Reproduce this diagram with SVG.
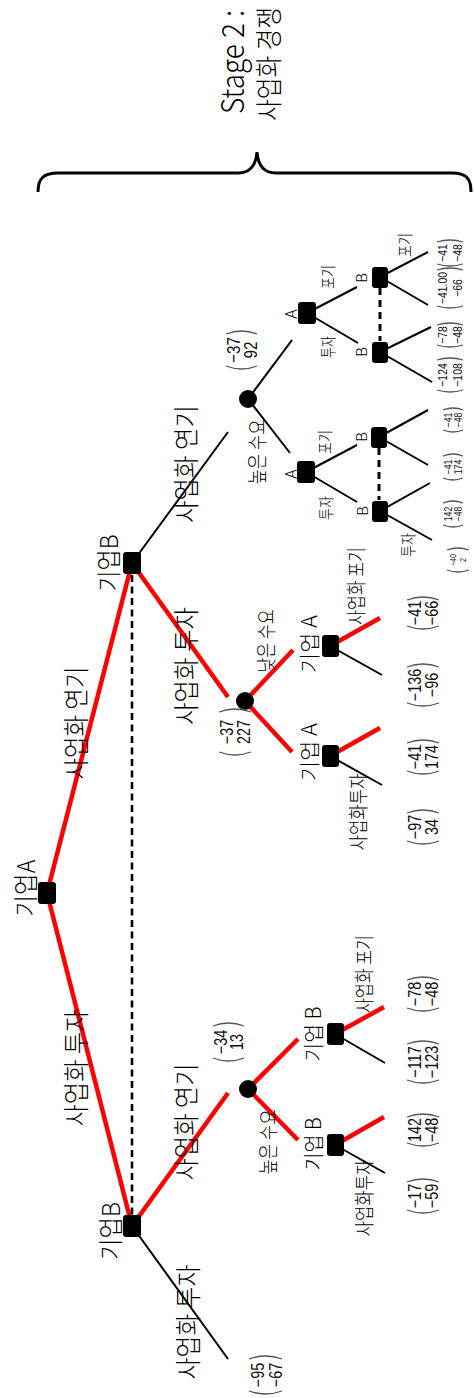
<svg xmlns="http://www.w3.org/2000/svg" width="474" height="1398" viewBox="0 0 474 1398">
<style>
.k{font-family:"Noto Sans CJK KR","Liberation Sans",sans-serif;font-weight:300;fill:#000}
.n{font-family:"Liberation Sans","Noto Sans CJK KR",sans-serif;fill:#111;text-anchor:middle}
.red{stroke:#ff0000;stroke-width:4.5;fill:none}
.blk{stroke:#000;stroke-width:2;fill:none}
.dash{stroke:#000;stroke-width:2.6;stroke-dasharray:7 4.5;fill:none}
.dash2{stroke:#000;stroke-width:3;stroke-dasharray:7 5;fill:none}
.sq{fill:#000}
.par{fill:none;stroke:#555;stroke-width:1.3}
.brace{fill:none;stroke:#000;stroke-width:3}
</style>
<rect width="474" height="1398" fill="#fff"/>

<g id="stage2">
<path class="brace" d="M38,192 C38,178 44,173 58,173 L238,173 C250,173 256,165 257,152 C258,165 264,173 276,173 L452,173 C466,173 471,178 471,192"/>
<text class="k" font-size="26" text-anchor="middle" textLength="104" lengthAdjust="spacingAndGlyphs" transform="translate(244,62) rotate(-90) scale(1,1.2)">Stage 2 :</text>
<text class="k" font-size="22" text-anchor="middle" textLength="114" lengthAdjust="spacingAndGlyphs" transform="translate(279,64) rotate(-90) scale(1,1.25)">사업화 경쟁</text>
</g>

<g id="connectors">
<line class="red" x1="47" y1="893" x2="132" y2="563"/>
<line class="red" x1="47" y1="893" x2="132" y2="1226"/>
<line class="dash" x1="132" y1="575" x2="132" y2="1215"/>
<line class="blk" x1="132" y1="563" x2="228" y2="432"/>
<line class="red" x1="132" y1="563" x2="228" y2="697"/>
<line class="red" x1="132" y1="1226" x2="228" y2="1093"/>
<line class="blk" x1="132" y1="1226" x2="228" y2="1359"/>
<line class="red" x1="245" y1="701" x2="293" y2="650"/>
<line class="red" x1="245" y1="701" x2="292" y2="752"/>
<line class="red" x1="330" y1="646" x2="380" y2="618"/>
<line class="blk" x1="330" y1="646" x2="382" y2="675"/>
<line class="red" x1="330" y1="756" x2="380" y2="728"/>
<line class="blk" x1="330" y1="756" x2="382" y2="785"/>
<line class="red" x1="248" y1="1089" x2="298" y2="1039"/>
<line class="red" x1="248" y1="1089" x2="298" y2="1140"/>
<line class="red" x1="335" y1="1034" x2="384" y2="1007"/>
<line class="blk" x1="335" y1="1034" x2="385" y2="1063"/>
<line class="red" x1="335" y1="1145" x2="384" y2="1117"/>
<line class="blk" x1="335" y1="1145" x2="385" y2="1173"/>
<line class="blk" x1="248" y1="399" x2="292" y2="340"/>
<line class="blk" x1="248" y1="399" x2="290" y2="453"/>
<line class="blk" x1="307" y1="313" x2="357" y2="287"/>
<line class="blk" x1="307" y1="313" x2="358" y2="343"/>
<line class="blk" x1="380" y1="277" x2="428" y2="252"/>
<line class="blk" x1="380" y1="277" x2="428" y2="305"/>
<line class="blk" x1="380" y1="352" x2="431" y2="327"/>
<line class="blk" x1="380" y1="352" x2="432" y2="382"/>
<line class="dash2" x1="380" y1="288" x2="380" y2="341"/>
<line class="blk" x1="306" y1="472" x2="357" y2="445"/>
<line class="blk" x1="306" y1="472" x2="357" y2="502"/>
<line class="blk" x1="379" y1="437" x2="428" y2="410"/>
<line class="blk" x1="379" y1="437" x2="428" y2="465"/>
<line class="blk" x1="380" y1="511" x2="430" y2="483"/>
<line class="blk" x1="380" y1="511" x2="432" y2="540"/>
<line class="dash2" x1="379" y1="448" x2="379" y2="500"/>
</g>

<g id="edge-labels">
<text class="k" font-size="26" text-anchor="middle" textLength="113" lengthAdjust="spacingAndGlyphs" transform="translate(86,723) rotate(-90)">사업화 연기</text>
<text class="k" font-size="26" text-anchor="middle" textLength="117" lengthAdjust="spacingAndGlyphs" transform="translate(86,1068) rotate(-90)">사업화 투자</text>
<text class="k" font-size="26" text-anchor="middle" textLength="118" lengthAdjust="spacingAndGlyphs" transform="translate(196,464) rotate(-90)">사업화 연기</text>
<text class="k" font-size="26" text-anchor="middle" textLength="118" lengthAdjust="spacingAndGlyphs" transform="translate(196,666) rotate(-90)">사업화 투자</text>
<text class="k" font-size="26" text-anchor="middle" textLength="117" lengthAdjust="spacingAndGlyphs" transform="translate(196,1122) rotate(-90)">사업화 연기</text>
<text class="k" font-size="26" text-anchor="middle" textLength="115" lengthAdjust="spacingAndGlyphs" transform="translate(198,1322) rotate(-90)">사업화 투자</text>
<text class="k" font-size="20" text-anchor="middle" textLength="63" lengthAdjust="spacingAndGlyphs" transform="translate(274,641) rotate(-90)">낮은 수요</text>
<text class="k" font-size="20" text-anchor="middle" textLength="65" lengthAdjust="spacingAndGlyphs" transform="translate(265,452) rotate(-90)">높은 수요</text>
<text class="k" font-size="20" text-anchor="middle" textLength="65" lengthAdjust="spacingAndGlyphs" transform="translate(276,1142) rotate(-90)">높은 수요</text>
<text class="k" font-size="20" text-anchor="middle" textLength="78" lengthAdjust="spacingAndGlyphs" transform="translate(364,586) rotate(-90)">사업화 포기</text>
<text class="k" font-size="20" text-anchor="middle" textLength="77" lengthAdjust="spacingAndGlyphs" transform="translate(366,812) rotate(-90)">사업화투자</text>
<text class="k" font-size="20" text-anchor="middle" textLength="78" lengthAdjust="spacingAndGlyphs" transform="translate(372,974) rotate(-90)">사업화 포기</text>
<text class="k" font-size="20" text-anchor="middle" textLength="77" lengthAdjust="spacingAndGlyphs" transform="translate(372,1198) rotate(-90)">사업화투자</text>
<text class="k" font-size="16" text-anchor="middle" textLength="24" lengthAdjust="spacingAndGlyphs" transform="translate(334,277) rotate(-90)">포기</text>
<text class="k" font-size="16" text-anchor="middle" textLength="22" lengthAdjust="spacingAndGlyphs" transform="translate(334,347) rotate(-90)">투자</text>
<text class="k" font-size="16" text-anchor="middle" textLength="24" lengthAdjust="spacingAndGlyphs" transform="translate(331,442) rotate(-90)">포기</text>
<text class="k" font-size="16" text-anchor="middle" textLength="24" lengthAdjust="spacingAndGlyphs" transform="translate(332,508) rotate(-90)">투자</text>
<text class="k" font-size="16" text-anchor="middle" textLength="24" lengthAdjust="spacingAndGlyphs" transform="translate(411,245) rotate(-90)">포기</text>
<text class="k" font-size="16" text-anchor="middle" textLength="24" lengthAdjust="spacingAndGlyphs" transform="translate(414,545) rotate(-90)">투자</text>
</g>

<g id="n-root"><rect class="sq" x="38" y="882" width="18" height="22" rx="3"/>
<text class="k" font-size="25" text-anchor="middle" textLength="57" lengthAdjust="spacingAndGlyphs" transform="translate(35,888) rotate(-90)">기업A</text></g>
<g id="n-b-up"><rect class="sq" x="123" y="552" width="18" height="22" rx="3"/>
<text class="k" font-size="25" text-anchor="middle" textLength="57" lengthAdjust="spacingAndGlyphs" transform="translate(118,563) rotate(-90)">기업B</text></g>
<g id="n-b-low"><rect class="sq" x="123" y="1215" width="18" height="22" rx="3"/>
<text class="k" font-size="25" text-anchor="middle" textLength="58" lengthAdjust="spacingAndGlyphs" transform="translate(120,1231) rotate(-90)">기업B</text></g>

<g id="c-top"><circle cx="248" cy="399" r="9" class="sq"/></g>
<g id="c-mid"><circle cx="245" cy="701" r="9" class="sq"/></g>
<g id="c-low"><circle cx="248" cy="1089" r="9" class="sq"/></g>

<g id="n-ma1"><rect class="sq" x="322" y="635" width="17" height="22" rx="3"/>
<text class="k" font-size="21" text-anchor="middle" textLength="58" lengthAdjust="spacingAndGlyphs" transform="translate(317,644) rotate(-90)">기업 A</text></g>
<g id="n-ma2"><rect class="sq" x="322" y="745" width="17" height="22" rx="3"/>
<text class="k" font-size="21" text-anchor="middle" textLength="58" lengthAdjust="spacingAndGlyphs" transform="translate(317,752) rotate(-90)">기업 A</text></g>
<g id="n-lb1"><rect class="sq" x="327" y="1023" width="17" height="22" rx="3"/>
<text class="k" font-size="21" text-anchor="middle" textLength="55" lengthAdjust="spacingAndGlyphs" transform="translate(321,1034) rotate(-90)">기업 B</text></g>
<g id="n-lb2"><rect class="sq" x="327" y="1134" width="17" height="22" rx="3"/>
<text class="k" font-size="21" text-anchor="middle" textLength="53" lengthAdjust="spacingAndGlyphs" transform="translate(321,1144) rotate(-90)">기업 B</text></g>

<g id="n-ta1"><rect class="sq" x="298" y="302" width="18" height="22" rx="3"/>
<text class="k" font-size="16" text-anchor="middle" transform="translate(297,314) rotate(-90)">A</text></g>
<g id="n-ta2"><rect class="sq" x="297" y="461" width="18" height="22" rx="3"/>
<text class="k" font-size="16" text-anchor="middle" transform="translate(297,474) rotate(-90)">A</text></g>
<g id="n-tb1"><rect class="sq" x="372" y="267" width="16" height="21" rx="3"/>
<text class="k" font-size="15" text-anchor="middle" transform="translate(367,278) rotate(-90)">B</text></g>
<g id="n-tb2"><rect class="sq" x="372" y="342" width="16" height="21" rx="3"/>
<text class="k" font-size="15" text-anchor="middle" transform="translate(367,352) rotate(-90)">B</text></g>
<g id="n-tb3"><rect class="sq" x="371" y="427" width="16" height="21" rx="3"/>
<text class="k" font-size="15" text-anchor="middle" transform="translate(367,437) rotate(-90)">B</text></g>
<g id="n-tb4"><rect class="sq" x="372" y="501" width="16" height="21" rx="3"/>
<text class="k" font-size="15" text-anchor="middle" transform="translate(368,511) rotate(-90)">B</text></g>

<g id="payoffs">
<g id="p-c1" transform="translate(225,350) rotate(-90)"><path class="par" d="M-16,1 Q-22,16.5 -16,32"/><path class="par" d="M16,1 Q22,16.5 16,32"/>
<text class="n" font-size="19" y="15" transform="scale(.8,1)">−37</text><text class="n" font-size="19" y="32" transform="scale(.8,1)">92</text></g>
<g id="p-c2" transform="translate(218,732) rotate(-90)"><path class="par" d="M-20,1 Q-26,17 -20,33"/><path class="par" d="M20,1 Q26,17 20,33"/>
<text class="n" font-size="18" y="15" transform="scale(.8,1)">−37</text><text class="n" font-size="18" y="32" transform="scale(.8,1)">227</text></g>
<g id="p-c3" transform="translate(212,1042) rotate(-90)"><path class="par" d="M-16,1 Q-22,16.5 -16,32"/><path class="par" d="M16,1 Q22,16.5 16,32"/>
<text class="n" font-size="18" y="15" transform="scale(.8,1)">−34</text><text class="n" font-size="18" y="31" transform="scale(.8,1)">13</text></g>
<g id="p-end" transform="translate(248,1375) rotate(-90)"><path class="par" d="M-16,1 Q-22,17.5 -16,34"/><path class="par" d="M16,1 Q22,17.5 16,34"/>
<text class="n" font-size="18" y="16" transform="scale(.8,1)">−95</text><text class="n" font-size="18" y="34" transform="scale(.8,1)">−67</text></g>

<g id="p-m1a" transform="translate(406,613) rotate(-90)"><path class="par" d="M-13,1 Q-19,17 -13,33"/><path class="par" d="M13,1 Q19,17 13,33"/>
<text class="n" font-size="18" y="15" transform="scale(.8,1)">−41</text><text class="n" font-size="18" y="32" transform="scale(.8,1)">−66</text></g>
<g id="p-m1b" transform="translate(406,685) rotate(-90)"><path class="par" d="M-18,1 Q-24,17 -18,33"/><path class="par" d="M18,1 Q24,17 18,33"/>
<text class="n" font-size="18" y="15" transform="scale(.8,1)">−136</text><text class="n" font-size="18" y="32" transform="scale(.8,1)">−96</text></g>
<g id="p-m2a" transform="translate(406,757) rotate(-90)"><path class="par" d="M-14,1 Q-20,17 -14,33"/><path class="par" d="M14,1 Q20,17 14,33"/>
<text class="n" font-size="18" y="15" transform="scale(.8,1)">−41</text><text class="n" font-size="18" y="32" transform="scale(.8,1)">174</text></g>
<g id="p-m2b" transform="translate(406,827) rotate(-90)"><path class="par" d="M-14,1 Q-20,17 -14,33"/><path class="par" d="M14,1 Q20,17 14,33"/>
<text class="n" font-size="18" y="15" transform="scale(.8,1)">−97</text><text class="n" font-size="18" y="32" transform="scale(.8,1)">34</text></g>

<g id="p-l1a" transform="translate(406,994) rotate(-90)"><path class="par" d="M-14,1 Q-20,17 -14,33"/><path class="par" d="M14,1 Q20,17 14,33"/>
<text class="n" font-size="18" y="15" transform="scale(.8,1)">−78</text><text class="n" font-size="18" y="32" transform="scale(.8,1)">−48</text></g>
<g id="p-l1b" transform="translate(406,1062) rotate(-90)"><path class="par" d="M-18,1 Q-24,17 -18,33"/><path class="par" d="M18,1 Q24,17 18,33"/>
<text class="n" font-size="18" y="15" transform="scale(.8,1)">−117</text><text class="n" font-size="18" y="32" transform="scale(.8,1)">−123</text></g>
<g id="p-l2a" transform="translate(406,1130) rotate(-90)"><path class="par" d="M-13,1 Q-19,17 -13,33"/><path class="par" d="M13,1 Q19,17 13,33"/>
<text class="n" font-size="18" y="15" transform="scale(.8,1)">142</text><text class="n" font-size="18" y="32" transform="scale(.8,1)">−48</text></g>
<g id="p-l2b" transform="translate(406,1196) rotate(-90)"><path class="par" d="M-14,1 Q-20,17 -14,33"/><path class="par" d="M14,1 Q20,17 14,33"/>
<text class="n" font-size="18" y="15" transform="scale(.8,1)">−17</text><text class="n" font-size="18" y="32" transform="scale(.8,1)">−59</text></g>

<g id="p-t1" transform="translate(436,253) rotate(-90)"><path class="par" d="M-11,1 Q-15,14 -11,27"/><path class="par" d="M11,1 Q15,14 11,27"/>
<text class="n" font-size="13" y="11" transform="scale(.8,1)">−41</text><text class="n" font-size="13" y="26" transform="scale(.8,1)">−48</text></g>
<g id="p-t2" transform="translate(436,288) rotate(-90)"><path class="par" d="M-18,1 Q-22,14 -18,27"/><path class="par" d="M18,1 Q22,14 18,27"/>
<text class="n" font-size="13" y="11" transform="scale(.8,1)">−41.00</text><text class="n" font-size="13" y="26" transform="scale(.8,1)">−66</text></g>
<g id="p-t3" transform="translate(436,335) rotate(-90)"><path class="par" d="M-10,1 Q-14,14 -10,27"/><path class="par" d="M10,1 Q14,14 10,27"/>
<text class="n" font-size="13" y="11" transform="scale(.8,1)">−78</text><text class="n" font-size="13" y="26" transform="scale(.8,1)">−48</text></g>
<g id="p-t4" transform="translate(436,375) rotate(-90)"><path class="par" d="M-15,1 Q-19,14 -15,27"/><path class="par" d="M15,1 Q19,14 15,27"/>
<text class="n" font-size="13" y="11" transform="scale(.8,1)">−124</text><text class="n" font-size="13" y="26" transform="scale(.8,1)">−108</text></g>

<g id="p-t5" transform="translate(443,420) rotate(-90)"><path class="par" d="M-10,0 Q-14,10 -10,20"/><path class="par" d="M10,0 Q14,10 10,20"/>
<text class="n" font-size="11" y="9" transform="scale(.8,1)">−41</text><text class="n" font-size="11" y="19" transform="scale(.8,1)">−48</text></g>
<g id="p-t6" transform="translate(443,467) rotate(-90)"><path class="par" d="M-11,0 Q-15,10 -11,20"/><path class="par" d="M11,0 Q15,10 11,20"/>
<text class="n" font-size="11" y="9" transform="scale(.8,1)">−41</text><text class="n" font-size="11" y="19" transform="scale(.8,1)">174</text></g>
<g id="p-t7" transform="translate(443,514) rotate(-90)"><path class="par" d="M-11,0 Q-15,10 -11,20"/><path class="par" d="M11,0 Q15,10 11,20"/>
<text class="n" font-size="11" y="9" transform="scale(.8,1)">142</text><text class="n" font-size="11" y="19" transform="scale(.8,1)">−48</text></g>
<g id="p-t8" transform="translate(447,560) rotate(-90)"><path class="par" d="M-10,0 Q-14,11 -10,22"/><path class="par" d="M10,0 Q14,11 10,22"/>
<text class="n" font-size="9" y="9" transform="scale(.8,1)">−40</text><text class="n" font-size="9" y="19" transform="scale(.8,1)">2</text></g>
</g>
</svg>
